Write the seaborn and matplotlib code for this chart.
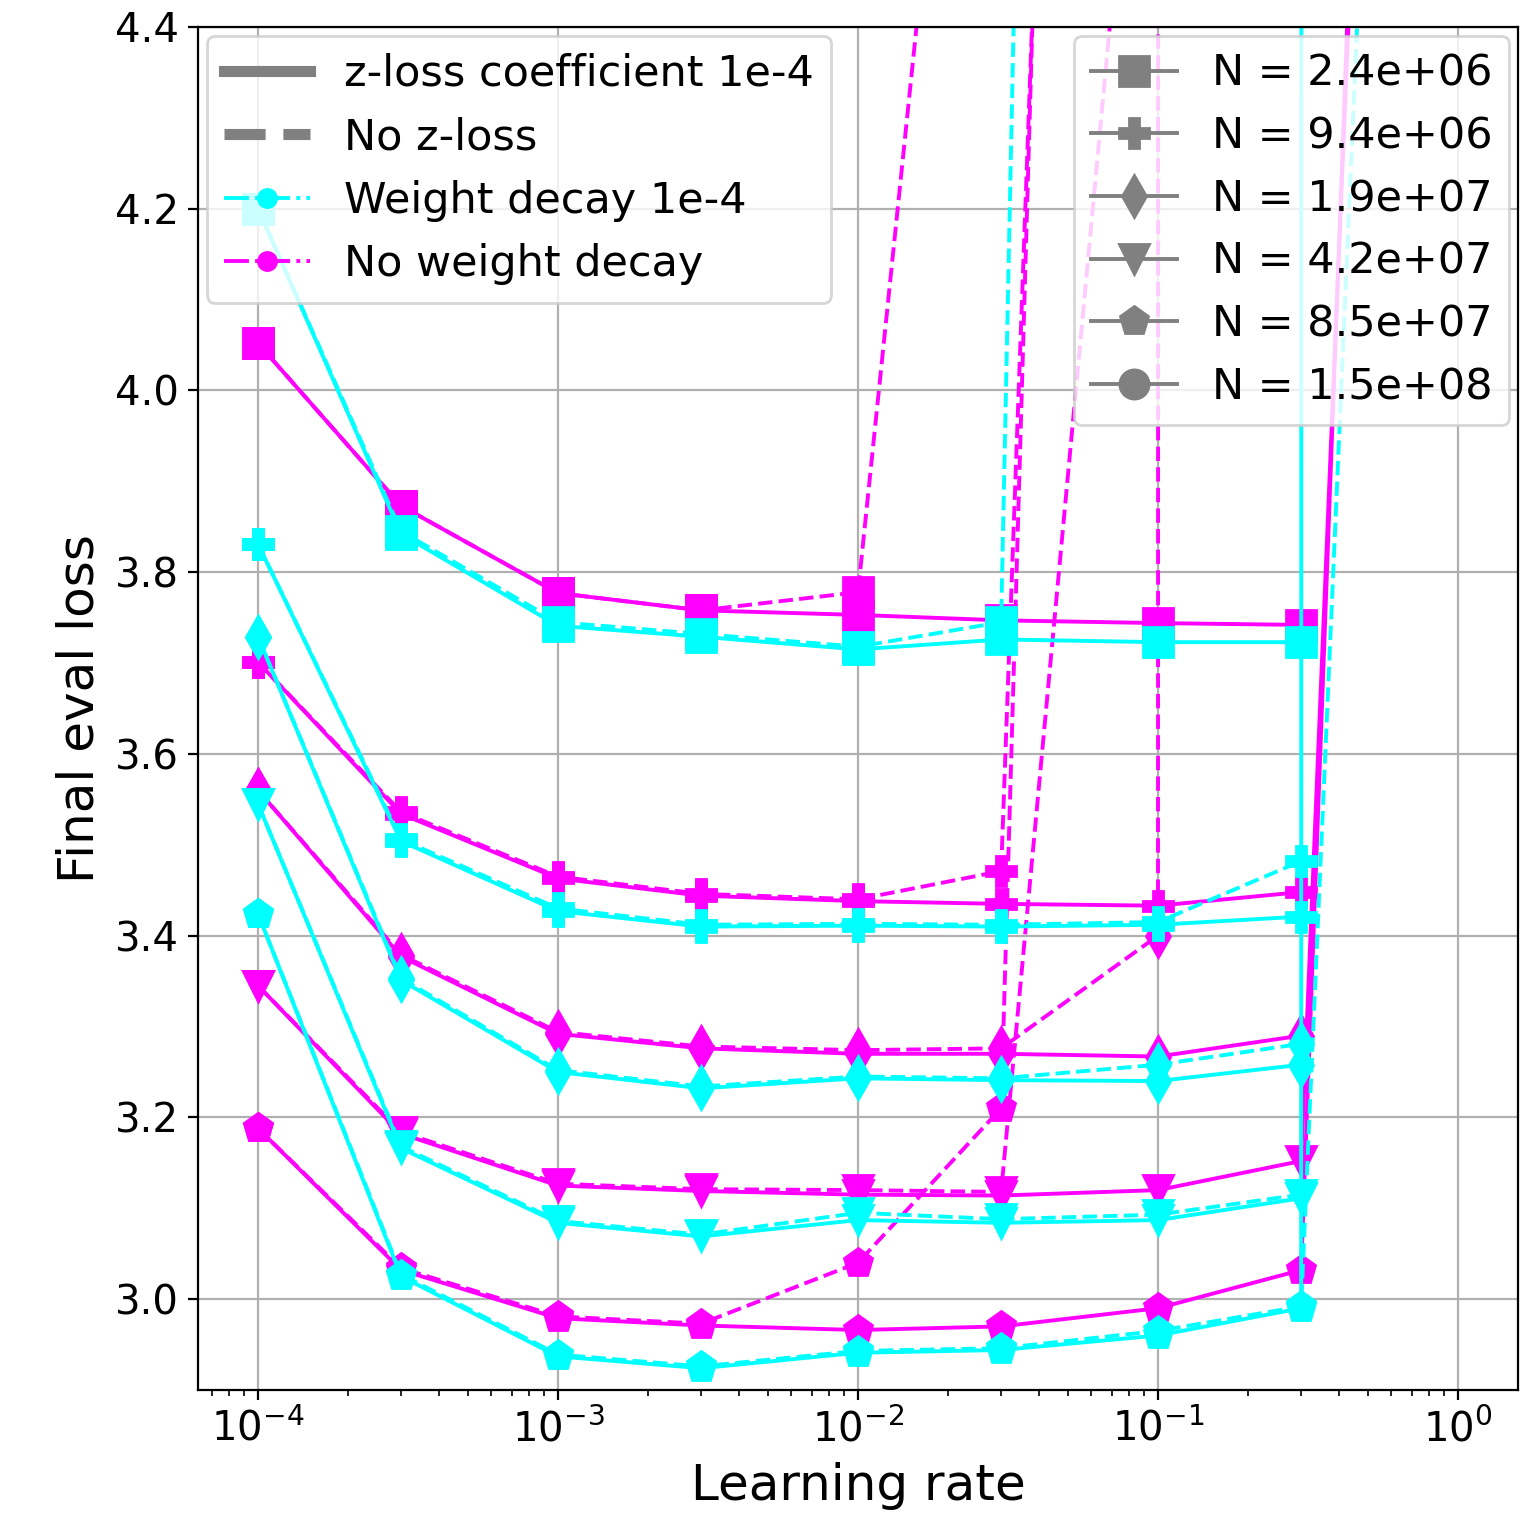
import numpy as np
import pandas as pd
import matplotlib
matplotlib.use("Agg")
import matplotlib.pyplot as plt
import seaborn as sns
from matplotlib.lines import Line2D

nan = np.nan

# ---------------- data ----------------
learning_rates = [1e-4, 3e-4, 1e-3, 3e-3, 1e-2, 3e-2, 1e-1, 3e-1, 1e0]
size_labels = ["2.4e+06", "9.4e+06", "1.9e+07", "4.2e+07", "8.5e+07", "1.5e+08"]
size_markers = ["s", "P", "d", "v", "p", "o"]

# weight decay 1e-4, z-loss 1e-4  (cyan, solid)
wd_zloss = {
    "2.4e+06": [4.200, 3.842, 3.741, 3.729, 3.715, 3.726, 3.723, 3.723, nan],
    "9.4e+06": [3.831, 3.504, 3.427, 3.410, 3.411, 3.410, 3.412, 3.421, nan],
    "1.9e+07": [3.729, 3.351, 3.250, 3.232, 3.243, 3.241, 3.240, 3.258, nan],
    "4.2e+07": [3.545, 3.166, 3.084, 3.069, 3.087, 3.084, 3.087, 3.111, nan],
    "8.5e+07": [3.424, 3.025, 2.937, 2.924, 2.941, 2.944, 2.960, 2.990, 1000.0],
}
# weight decay 1e-4, no z-loss  (cyan, dashed)
wd_nozloss = {
    "2.4e+06": [4.200, 3.845, 3.745, 3.732, 3.718, 3.745, 12.0, nan, nan],
    "9.4e+06": [3.831, 3.506, 3.430, 3.412, 3.413, 3.412, 3.415, 3.482, nan],
    "1.9e+07": [3.729, 3.353, 3.252, 3.234, 3.245, 3.243, 3.258, 3.281, nan],
    "4.2e+07": [3.545, 3.168, 3.086, 3.071, 3.095, 3.088, 3.093, 3.115, nan],
    "8.5e+07": [3.424, 3.027, 2.939, 2.926, 2.943, 2.946, 2.965, 2.992, 6.94],
}
# no weight decay, z-loss 1e-4  (magenta, solid)
nowd_zloss = {
    "2.4e+06": [4.052, 3.873, 3.777, 3.758, 3.753, 3.747, 3.744, 3.742, nan],
    "9.4e+06": [3.701, 3.534, 3.463, 3.444, 3.438, 3.435, 3.433, 3.448, nan],
    "1.9e+07": [3.560, 3.377, 3.292, 3.276, 3.270, 3.270, 3.267, 3.290, nan],
    "4.2e+07": [3.345, 3.182, 3.125, 3.119, 3.115, 3.114, 3.120, 3.152, 7.30],
    "8.5e+07": [3.188, 3.032, 2.979, 2.971, 2.966, 2.970, 2.990, 3.032, 7.70],
}
# no weight decay, no z-loss  (magenta, dashed)
nowd_nozloss = {
    "2.4e+06": [4.052, 3.873, 3.777, 3.758, 3.778, 5.30, nan, nan, nan],
    "9.4e+06": [3.701, 3.536, 3.465, 3.446, 3.440, 3.471, 8.20, nan, nan],
    "1.9e+07": [3.560, 3.379, 3.294, 3.278, 3.274, 3.276, 3.400, 1000.0, nan],
    "4.2e+07": [3.345, 3.184, 3.127, 3.121, 3.120, 3.118, 4.97, nan, nan],
    "8.5e+07": [3.188, 3.034, 2.981, 2.973, 3.040, 3.210, 9.20, nan, nan],
}

color_wd = "#00FFFF"
color_nowd = "#FF00FF"

# ---------------- figure ----------------
fig = plt.figure(figsize=(7.635, 7.575), dpi=200)
ax = fig.add_axes([198 / 1527, 1 - 1390 / 1515, (1518 - 198) / 1527, (1390 - 27) / 1515])
ax.set_xscale("log")

configs = [
    (nowd_nozloss, color_nowd, "--"),
    (nowd_zloss, color_nowd, "-"),
    (wd_nozloss, color_wd, "--"),
    (wd_zloss, color_wd, "-"),
]

for table, color, ls in configs:
    for size, marker in zip(size_labels, size_markers):
        if size not in table:
            continue
        df = pd.DataFrame({"lr": learning_rates, "loss": table[size]}).dropna()
        sns.lineplot(data=df, x="lr", y="loss", ax=ax, color=color, linestyle=ls,
                     linewidth=1.4, marker=marker, markersize=10.5,
                     markeredgecolor=color, markeredgewidth=1.0,
                     errorbar=None, legend=False)

ax.set_ylim(2.9, 4.4)
ax.set_xlim(10 ** -4.2, 10 ** 0.2)
ax.set_yticks([3.0, 3.2, 3.4, 3.6, 3.8, 4.0, 4.2, 4.4])
ax.grid(True, which="major", color="#b0b0b0", linewidth=0.8)
ax.tick_params(axis="both", labelsize=14.5)
ax.set_xlabel("Learning rate", fontsize=18)
ax.set_ylabel("Final eval loss", fontsize=18)

# legend 1: line styles / colours
h1 = [
    Line2D([], [], color="gray", lw=4, ls="-"),
    Line2D([], [], color="gray", lw=4, ls="--"),
    Line2D([], [], color=color_wd, lw=1.4, ls="-.", marker="o", markersize=6.5),
    Line2D([], [], color=color_nowd, lw=1.4, ls="-.", marker="o", markersize=6.5),
]
l1 = ["z-loss coefficient 1e-4", "No z-loss", "Weight decay 1e-4", "No weight decay"]
leg1 = ax.legend(h1, l1, loc="upper left", fontsize=15.5, borderaxespad=0.2)
ax.add_artist(leg1)

# legend 2: model sizes
h2 = [Line2D([], [], color="gray", lw=1.4, marker=m, markersize=10.5) for m in size_markers]
l2 = [f"N = {s}" for s in size_labels]
ax.legend(h2, l2, loc="upper right", fontsize=15.5, borderaxespad=0.2, labelspacing=0.48)

fig.savefig("out.png", dpi=200)
